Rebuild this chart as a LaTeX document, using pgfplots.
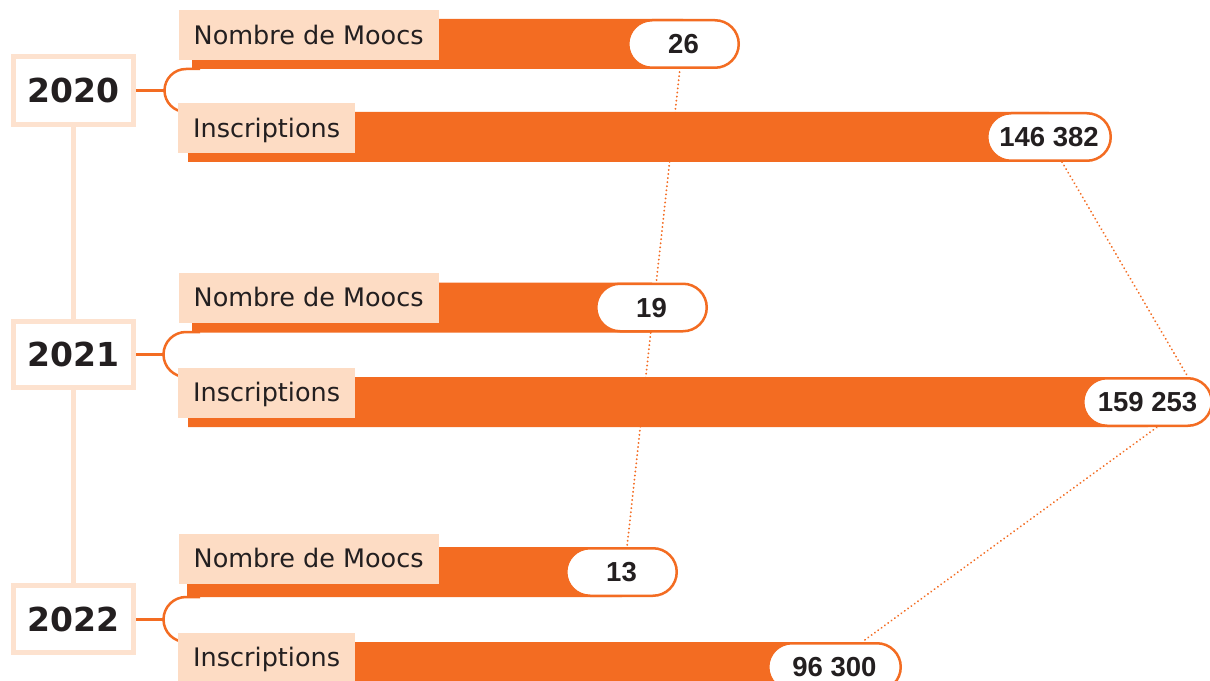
\documentclass[border=0pt]{standalone}
\usepackage{pgfplots}
\pgfplotsset{compat=1.18}
\usepackage{pgfplotstable}
\usepackage{fontspec}
\usetikzlibrary{shapes.misc}
\setmainfont{DejaVu Sans}
\newfontfamily\labelfont{DejaVu Sans}
\newfontfamily\yearfont{DejaVu Sans}
\newfontfamily\numfont{Liberation Sans}
\definecolor{brand}{HTML}{F36C22}
\definecolor{peach}{HTML}{FDDCC4}
\definecolor{peachlight}{HTML}{FDE2CF}
\definecolor{ink}{HTML}{231F20}

% y = bar centre, start/len = bar geometry, cx = pill centre, w = pill width, value = data
\pgfplotstableread[col sep=comma]{
y,start,len,cx,w,value
44,192,491,683.5,110.5,26
137,188,861,1049,123.5,146382
307.5,192,460,651.5,110.5,19
402,188,960,1147.5,128.5,159253
572,187,435,621.5,110.5,13
667,188,647,834.5,132.5,96300
}\bars

\pgfplotsset{canvasaxis/.style={x=1bp,y=1bp,y dir=reverse,xmin=0,xmax=1210,ymin=0,ymax=681,
  hide axis,at={(0,0)},anchor=south west}}

\tikzset{lbl/.style={fill=peach,anchor=west,inner xsep=15bp,inner ysep=0pt,minimum height=50bp,
  text height=18.5bp,text depth=0pt,text=ink,font=\labelfont\fontsize{25.5bp}{30bp}\selectfont},
  yr/.style={draw=peachlight,line width=5bp,fill=white,minimum width=120bp,inner sep=0pt,
  text height=24bp,text depth=0pt,text=ink,font=\yearfont\bfseries\fontsize{33bp}{38bp}\selectfont},
  conn/.style={brand,line width=2.5bp},
  dots/.style={brand,line width=2bp,line cap=round,dash pattern=on 0.1bp off 4bp}}

\begin{document}
\begin{tikzpicture}
% background layer: connectors, timeline
\begin{axis}[canvasaxis,name=base]
\addplot[dots] coordinates {(680,68) (627,547)};
\addplot[dots] coordinates {(1062,162) (1188,377)};
\addplot[dots] coordinates {(1160,425) (862,642)};
\addplot[peachlight,line width=5bp] coordinates {(73,127) (73,583)};
\draw[conn] (axis cs:136,90.5) -- (axis cs:165,90.5);
\draw[conn] (axis cs:200,69) -- (axis cs:186,69) arc[start angle=90,end angle=270,radius=21.5bp] -- (axis cs:200,112);
\draw[conn] (axis cs:136,354.5) -- (axis cs:164,354.5);
\draw[conn] (axis cs:200,332) -- (axis cs:186,332) arc[start angle=90,end angle=270,radius=22.5bp] -- (axis cs:200,377);
\draw[conn] (axis cs:136,619.5) -- (axis cs:164,619.5);
\draw[conn] (axis cs:200,597) -- (axis cs:186,597) arc[start angle=90,end angle=270,radius=22.5bp] -- (axis cs:200,642);
\end{axis}
% bars
\begin{axis}[canvasaxis,xbar stacked,bar width=50]
\addplot[draw=none,fill=none] table[x=start,y=y]{\bars};
\addplot[draw=none,fill=brand] table[x=len,y=y]{\bars};
\end{axis}
% labels, years, value pills
\begin{axis}[canvasaxis]
\node[lbl] at (axis cs:178.5,35) {Nombre de Moocs};
\node[lbl] at (axis cs:178,128) {Inscriptions};
\node[lbl] at (axis cs:178.5,297.5) {Nombre de Moocs};
\node[lbl] at (axis cs:178,392.5) {Inscriptions};
\node[lbl] at (axis cs:178.5,558.5) {Nombre de Moocs};
\node[lbl] at (axis cs:178,657.5) {Inscriptions};
\node[yr,minimum height=68bp] at (axis cs:73.5,90.5) {2020};
\node[yr,minimum height=66bp] at (axis cs:73.5,354.5) {2021};
\node[yr,minimum height=67bp] at (axis cs:73.5,619) {2022};
\addplot[only marks,mark=none,
  visualization depends on={\thisrow{w}\as\pillw},
  point meta=explicit,
  nodes near coords={\pgfmathprintnumber[fixed,precision=0,1000 sep={\ },assume math mode=true]{\pgfplotspointmeta}},
  every node near coord/.append style={anchor=center,rounded rectangle,draw=brand,line width=2.5bp,
    fill=white,text=ink,minimum width=\pillw bp,minimum height=47.5bp,inner sep=0pt,
    text height=19.3bp,text depth=0pt,font=\numfont\bfseries\fontsize{27.5bp}{30bp}\selectfont}]
  table[x=cx,y=y,meta=value]{\bars};
\end{axis}
\pgfresetboundingbox
\path[use as bounding box] (base.south west) rectangle (base.north east);
\end{tikzpicture}
\end{document}
